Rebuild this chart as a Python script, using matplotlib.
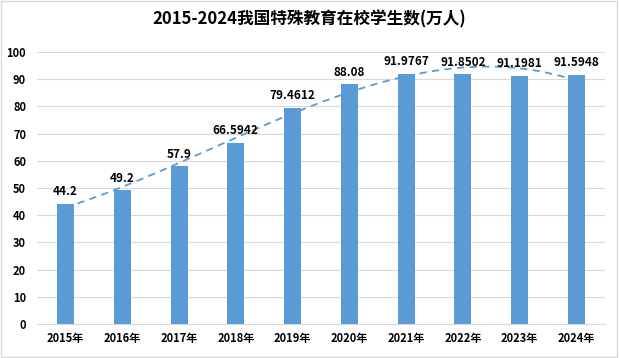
import numpy as np
import matplotlib
matplotlib.use('Agg')
import matplotlib.pyplot as plt

plt.rcParams['font.family'] = ['Noto Sans CJK SC', 'DejaVu Sans']

years = ['2015年', '2016年', '2017年', '2018年', '2019年',
         '2020年', '2021年', '2022年', '2023年', '2024年']
students = [44.2, 49.2, 57.9, 66.5942, 79.4612, 88.08, 91.9767, 91.8502, 91.1981, 91.5948]
labels = ['44.2', '49.2', '57.9', '66.5942', '79.4612', '88.08',
          '91.9767', '91.8502', '91.1981', '91.5948']

bar_color = '#5B9BD5'

fig = plt.figure(figsize=(6.19, 3.58), dpi=100)
ax = fig.add_axes([0.06, 0.095, 0.917, 0.76])

x = np.arange(len(years))
ax.bar(x, students, width=0.3, color=bar_color, zorder=3)

# polynomial trend line (like the Excel one)
coef = np.polyfit(x, students, 3)
xs = np.linspace(0, len(years) - 1, 200)
ax.plot(xs, np.polyval(coef, xs), color=bar_color, linestyle=(0, (4, 3)),
        linewidth=1.3, zorder=4)

for xi, v, lab in zip(x, students, labels):
    ax.text(xi, v + 2, lab, ha='center', va='bottom', fontsize=8.5,
            fontweight='bold', zorder=5)

ax.set_xlim(-0.5, len(years) - 0.5)
ax.set_ylim(0, 100)
ax.set_yticks(range(0, 101, 10))
ax.set_xticks(x)
ax.set_xticklabels(years)
ax.tick_params(axis='both', length=0, labelsize=8)
for lab in ax.get_xticklabels() + ax.get_yticklabels():
    lab.set_fontweight('bold')
ax.tick_params(axis='x', pad=6)
ax.tick_params(axis='y', pad=8)

ax.grid(axis='y', color='#D9D9D9', linewidth=0.8, zorder=0)
for side in ('top', 'right', 'left'):
    ax.spines[side].set_visible(False)
ax.spines['bottom'].set_color('#D9D9D9')

fig.suptitle('2015-2024我国特殊教育在校学生数(万人)', fontsize=12,
             fontweight='bold', y=0.97)

fig.patches.append(plt.Rectangle((0.002, 0.003), 0.995, 0.993, transform=fig.transFigure,
                                 fill=False, edgecolor='#D9D9D9', linewidth=1))

fig.savefig('out.png', dpi=100)
